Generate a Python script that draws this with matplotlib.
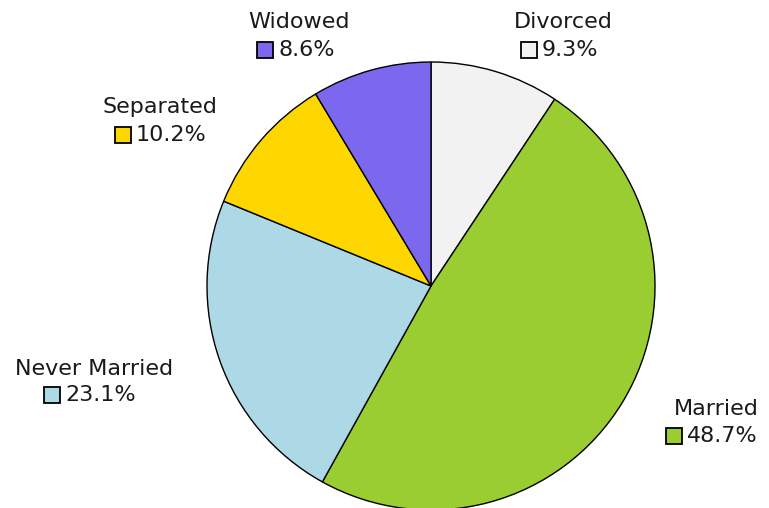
import numpy as np
import matplotlib.pyplot as plt

labels = ['Divorced', 'Married', 'Never Married', 'Separated', 'Widowed']
values = [9.3, 48.7, 23.1, 10.2, 8.6]
colors = ['#f2f2f2', '#9acd32', '#add8e6', '#ffd700', '#7b68ee']

# layout in pixels from top-left: name centre (x, y), square centre (x, y)
name_pos = [(563, 22), (716, 409), (94, 369), (160, 107), (299, 22)]
box_pos = [(529, 50), (674, 436), (52, 395), (123, 135), (265, 50)]

W, H = 769, 508
fig = plt.figure(figsize=(W / 100, H / 100), dpi=100)
ax = fig.add_axes([0, 0, 1, 1])

ax.pie(values, colors=colors, startangle=90, counterclock=False,
       center=(431, H - 286), radius=224,
       wedgeprops=dict(edgecolor='black', linewidth=1), frame=True)
ax.set_xlim(0, W)
ax.set_ylim(0, H)
ax.axis('off')

fs = 16
for lab, val, col, (nx, ny), (bx, by) in zip(labels, values, colors, name_pos, box_pos):
    ax.text(nx, H - ny, lab, ha='center', va='center', fontsize=fs,
            family='DejaVu Sans', color='#1a1a1a')
    ax.text(bx + 13, H - by, f'{val:.1f}%', ha='left', va='center', fontsize=fs,
            family='DejaVu Sans', color='#1a1a1a')
    ax.plot([bx], [H - by], marker='s', markersize=11,
            markerfacecolor=col, markeredgecolor='black', markeredgewidth=1.3)

fig.savefig('out.png', dpi=100)
